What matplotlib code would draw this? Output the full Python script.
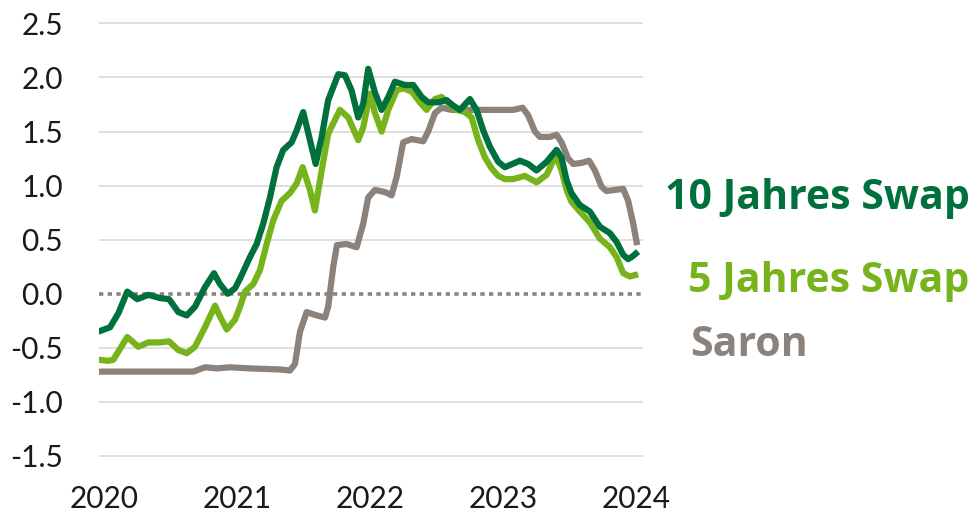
import matplotlib
matplotlib.use("Agg")
from matplotlib import pyplot as plt

plt.rcParams['font.family'] = ['Lato', 'DejaVu Sans']
plt.rcParams['axes.unicode_minus'] = False

# values (x in fractional years)
x_10y = [2019.957, 2020.045, 2020.108, 2020.175, 2020.250, 2020.333, 2020.421, 2020.489,
         2020.559, 2020.622, 2020.684, 2020.759, 2020.827, 2020.872, 2020.930, 2020.985,
         2021.023, 2021.098, 2021.148, 2021.198, 2021.248, 2021.298, 2021.348, 2021.411,
         2021.449, 2021.498, 2021.549, 2021.592, 2021.637, 2021.686, 2021.762, 2021.812,
         2021.862, 2021.912, 2021.950, 2021.987, 2022.038, 2022.088, 2022.138, 2022.188,
         2022.263, 2022.326, 2022.389, 2022.438, 2022.514, 2022.577, 2022.626, 2022.677,
         2022.752, 2022.802, 2022.852, 2022.902, 2022.965, 2023.015, 2023.053, 2023.128,
         2023.190, 2023.253, 2023.329, 2023.404, 2023.441, 2023.479, 2023.516, 2023.579,
         2023.654, 2023.729, 2023.805, 2023.855, 2023.905, 2023.942, 2023.980, 2024.017]
swap_10y = [-0.35, -0.31, -0.18, 0.02, -0.05, -0.01, -0.04, -0.05,
            -0.17, -0.20, -0.12, 0.06, 0.19, 0.09, 0.00, 0.05,
            0.14, 0.34, 0.46, 0.65, 0.89, 1.17, 1.33, 1.40,
            1.51, 1.68, 1.42, 1.20, 1.45, 1.79, 2.03, 2.02,
            1.88, 1.63, 1.76, 2.08, 1.86, 1.70, 1.82, 1.96,
            1.93, 1.93, 1.82, 1.77, 1.77, 1.79, 1.74, 1.70,
            1.80, 1.70, 1.51, 1.36, 1.22, 1.17, 1.19, 1.23,
            1.20, 1.14, 1.22, 1.33, 1.26, 1.05, 0.93, 0.82,
            0.76, 0.62, 0.56, 0.48, 0.36, 0.32, 0.35, 0.39]

x_5y = [2019.957, 2020.032, 2020.070, 2020.120, 2020.175, 2020.258, 2020.333, 2020.421,
        2020.489, 2020.559, 2020.622, 2020.684, 2020.759, 2020.835, 2020.872, 2020.923,
        2020.985, 2021.023, 2021.060, 2021.123, 2021.173, 2021.223, 2021.273, 2021.336,
        2021.398, 2021.449, 2021.494, 2021.549, 2021.586, 2021.637, 2021.686, 2021.774,
        2021.837, 2021.912, 2021.950, 2022.000, 2022.038, 2022.088, 2022.138, 2022.201,
        2022.250, 2022.314, 2022.376, 2022.426, 2022.489, 2022.539, 2022.589, 2022.652,
        2022.714, 2022.765, 2022.814, 2022.865, 2022.915, 2022.965, 2023.015, 2023.077,
        2023.165, 2023.253, 2023.329, 2023.398, 2023.441, 2023.479, 2023.516, 2023.579,
        2023.654, 2023.729, 2023.805, 2023.855, 2023.905, 2023.955, 2024.017]
swap_5y = [-0.61, -0.62, -0.61, -0.51, -0.40, -0.49, -0.45, -0.45,
           -0.44, -0.52, -0.55, -0.49, -0.31, -0.11, -0.21, -0.33,
           -0.24, -0.12, 0.02, 0.09, 0.22, 0.46, 0.68, 0.86,
           0.93, 1.02, 1.17, 0.96, 0.77, 1.14, 1.48, 1.70,
           1.63, 1.42, 1.54, 1.85, 1.67, 1.50, 1.70, 1.88,
           1.90, 1.87, 1.77, 1.70, 1.80, 1.82, 1.76, 1.70,
           1.68, 1.63, 1.42, 1.26, 1.16, 1.09, 1.06, 1.06,
           1.09, 1.03, 1.10, 1.28, 1.14, 0.96, 0.85, 0.76,
           0.66, 0.51, 0.43, 0.34, 0.19, 0.16, 0.18]

x_saron = [2019.957, 2020.671, 2020.759, 2020.847, 2020.947, 2021.098, 2021.323, 2021.398,
           2021.436, 2021.474, 2021.524, 2021.599, 2021.662, 2021.686, 2021.724, 2021.752,
           2021.825, 2021.900, 2021.950, 2021.987, 2022.038, 2022.113, 2022.163, 2022.201,
           2022.250, 2022.314, 2022.401, 2022.438, 2022.489, 2022.539, 2022.614, 2022.840,
           2023.077, 2023.148, 2023.190, 2023.241, 2023.278, 2023.353, 2023.404, 2023.441,
           2023.491, 2023.529, 2023.592, 2023.649, 2023.692, 2023.742, 2023.779, 2023.842,
           2023.905, 2023.942, 2023.980, 2024.010]
saron = [-0.72, -0.72, -0.68, -0.69, -0.68, -0.69, -0.70, -0.71,
         -0.65, -0.35, -0.17, -0.20, -0.22, -0.12, 0.25, 0.45,
         0.46, 0.43, 0.65, 0.89, 0.96, 0.94, 0.91, 1.08,
         1.40, 1.43, 1.41, 1.50, 1.67, 1.72, 1.70, 1.70,
         1.70, 1.72, 1.65, 1.50, 1.45, 1.45, 1.47, 1.40,
         1.25, 1.20, 1.21, 1.23, 1.14, 0.99, 0.95, 0.96,
         0.97, 0.86, 0.65, 0.45]

years = [2020, 2021, 2022, 2023, 2024]
yticks = [-1.5, -1.0, -0.5, 0.0, 0.5, 1.0, 1.5, 2.0, 2.5]

c10 = '#00703c'
c5 = '#77b31b'
cs = '#8b827c'

fig = plt.figure(figsize=(9.8, 5.13), dpi=100)
ax = fig.add_axes([0.101, 0.1006, 0.555, 0.8644])

for y in yticks:
    if y != 0:
        ax.axhline(y, color='#d9d9d9', lw=1.2, zorder=0)
ax.axhline(0, color=cs, lw=2.6, ls=(0, (1.2, 1.2)), zorder=1)

ax.plot(x_saron, saron, color=cs, lw=4.5, solid_joinstyle='round', solid_capstyle='butt', zorder=2)
ax.plot(x_5y, swap_5y, color=c5, lw=4.5, solid_joinstyle='round', solid_capstyle='butt', zorder=3)
ax.plot(x_10y, swap_10y, color=c10, lw=4.5, solid_joinstyle='round', solid_capstyle='butt', zorder=4)

ax.set_xlim(2019.962, 2024.053)
ax.set_ylim(-1.55, 2.55)
ax.set_xticks(years)
ax.set_xticklabels([str(y) for y in years])
ax.set_yticks(yticks)
ax.set_yticklabels(['%.1f' % v for v in yticks])
ax.tick_params(axis='both', length=0, labelsize=21.5, colors='#1a1a1a')
ax.tick_params(axis='y', pad=26)
ax.tick_params(axis='x', pad=17)
for s in ax.spines.values():
    s.set_visible(False)

lab = dict(transform=ax.get_yaxis_transform(), fontsize=29.5, fontweight='bold',
           family=['Open Sans', 'DejaVu Sans'], va='center', ha='left', clip_on=False)
ax.text(1.040, 0.88, '10 Jahres Swap', color=c10, **lab)
ax.text(1.083, 0.115, '5 Jahres Swap', color=c5, **lab)
ax.text(1.086, -0.48, 'Saron', color=cs, **lab)

fig.savefig('out.png', dpi=100)
